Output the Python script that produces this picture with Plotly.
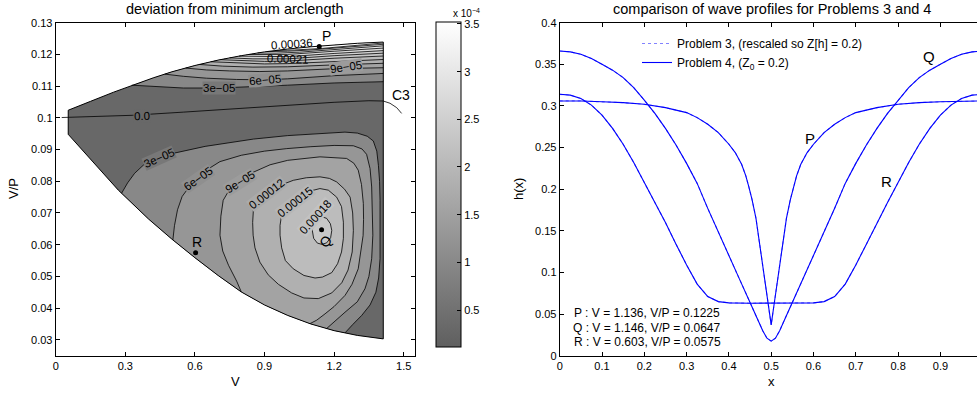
import numpy as np
import plotly.graph_objects as go

W, H = 977, 395
FONT = "Liberation Sans, Arial, Helvetica, sans-serif"

# ---------------- left panel: domain boundary (V, V/P) ----------------
UB_V = [0.054, 0.15, 0.25, 0.328, 0.42, 0.5, 0.6, 0.7, 0.8, 0.9, 1.0, 1.1, 1.2, 1.3, 1.412]
UB_Y = [0.1024, 0.1052, 0.1081, 0.1103, 0.1126, 0.1145, 0.1165, 0.1182, 0.1196, 0.1208,
        0.1217, 0.1224, 0.1230, 0.1235, 0.1239]
LB_V = [0.054, 0.27, 0.4, 0.5, 0.6, 0.7, 0.8, 0.9, 1.0, 1.1, 1.2, 1.3, 1.412]
LB_Y = [0.0948, 0.0772, 0.0681, 0.0618, 0.0559, 0.0503, 0.0451, 0.0410, 0.0377, 0.0350,
        0.0329, 0.0314, 0.0303]

# contour levels of the deviation field
LEVELS = [0.0, 3e-5, 6e-5, 9e-5, 1.2e-4, 1.5e-4, 1.8e-4, 2.1e-4, 2.4e-4, 2.7e-4, 3.0e-4, 3.3e-4, 3.6e-4]
# grey level of each band (band k lies between LEVELS[k] and LEVELS[k+1])
BAND_GRAY = [104, 136, 150, 163, 176, 188, 200, 211, 222, 232, 241, 249, 255]

# upper contours (levels 1..12): start V on the upper boundary, then points to the right edge
UPPER_START_V = [0.328, 0.47, 0.56, 0.62, 0.67, 0.71, 0.75, 0.79, 0.83, 0.87, 0.91, 0.95]
UPPER_PTS = [
    [(0.43, 0.1098), (0.55, 0.1094), (0.70, 0.1094), (0.85, 0.1098), (1.0, 0.1103), (1.2, 0.1110), (1.412, 0.1114)],
    [(0.55, 0.1131), (0.65, 0.1125), (0.78, 0.1121), (0.9, 0.1120), (1.0, 0.1123), (1.2, 0.1133), (1.412, 0.1140)],
    [(0.65, 0.1151), (0.75, 0.1148), (0.88, 0.1146), (1.0, 0.1148), (1.2, 0.1155), (1.412, 0.1158)],
    [(0.72, 0.1163), (0.85, 0.1160), (1.0, 0.1161), (1.2, 0.1167), (1.412, 0.1172)],
    [(0.77, 0.1173), (0.9, 0.1170), (1.0, 0.1171), (1.2, 0.1178), (1.412, 0.1184)],
    [(0.8, 0.1180), (0.9, 0.1178), (1.0, 0.1179), (1.2, 0.1188), (1.412, 0.1195)],
    [(0.85, 0.1186), (1.0, 0.1186), (1.2, 0.1196), (1.412, 0.1204)],
    [(0.88, 0.1193), (1.0, 0.1193), (1.2, 0.1203), (1.412, 0.1212)],
    [(0.92, 0.1199), (1.0, 0.1200), (1.2, 0.1210), (1.412, 0.1220)],
    [(0.95, 0.1204), (1.05, 0.1207), (1.2, 0.1216), (1.412, 0.1227)],
    [(1.0, 0.1210), (1.1, 0.1214), (1.25, 0.1222), (1.412, 0.1232)],
    [(1.03, 0.1214), (1.15, 0.1219), (1.3, 0.1228), (1.412, 0.1236)],
]

# lower open contours (levels 1..3): end points on the lower boundary and interior points
LOWER_ENDS_V = [(0.284, 1.247), (0.505, 1.168), (0.80, 1.096)]
LOWER_PTS = [
    [(0.31, 0.0795), (0.34, 0.0825), (0.378, 0.0851), (0.44, 0.0872), (0.5, 0.0887), (0.644, 0.0910),
     (0.773, 0.0925), (0.852, 0.0933), (1.0, 0.0944), (1.15, 0.0952), (1.247, 0.0955), (1.30, 0.0952),
     (1.343, 0.0942), (1.369, 0.0927), (1.384, 0.0895), (1.391, 0.0850), (1.396, 0.0800), (1.398, 0.0740),
     (1.399, 0.0660), (1.398, 0.0556), (1.392, 0.0495), (1.380, 0.0450), (1.355, 0.0410), (1.319, 0.0377),
     (1.28, 0.0348)],
    [(0.512, 0.0660), (0.525, 0.0710), (0.545, 0.0752), (0.58, 0.0787), (0.614, 0.0810), (0.66, 0.0840),
     (0.708, 0.0862), (0.8, 0.0882), (0.9, 0.0895), (0.996, 0.0903), (1.1, 0.0909), (1.2, 0.0913),
     (1.283, 0.0912), (1.32, 0.0902), (1.34, 0.0885), (1.355, 0.0840), (1.362, 0.0782), (1.366, 0.0700),
     (1.367, 0.0630), (1.362, 0.0556), (1.350, 0.0500), (1.333, 0.0461), (1.30, 0.0420), (1.247, 0.0387),
     (1.20, 0.0358)],
    [(0.78, 0.0485), (0.745, 0.0535), (0.72, 0.0580), (0.708, 0.0630), (0.712, 0.0690), (0.722, 0.0740),
     (0.75, 0.0775), (0.794, 0.0800), (0.85, 0.0828), (0.924, 0.0852), (1.0, 0.0866), (1.139, 0.0877),
     (1.254, 0.0872), (1.285, 0.0857), (1.304, 0.0835), (1.318, 0.0790), (1.326, 0.0730), (1.327, 0.0680),
     (1.325, 0.0629), (1.304, 0.0524), (1.277, 0.0475), (1.247, 0.0440), (1.2, 0.0405), (1.161, 0.0382),
     (1.125, 0.0362)],
]

# closed loops around Q (levels 4..6)
LOOPS = [
    [(0.852, 0.0708), (0.87, 0.0740), (0.909, 0.0762), (0.96, 0.0785), (1.024, 0.0803), (1.08, 0.0811),
     (1.139, 0.0814), (1.18, 0.0809), (1.211, 0.0798), (1.245, 0.0775), (1.269, 0.0750), (1.280, 0.0700),
     (1.283, 0.0645), (1.278, 0.0577), (1.26, 0.0520), (1.233, 0.0480), (1.19, 0.0448), (1.132, 0.0430),
     (1.07, 0.0432), (1.017, 0.0448), (0.96, 0.0475), (0.916, 0.0505), (0.88, 0.0545), (0.859, 0.0590),
     (0.851, 0.0630), (0.849, 0.0670), (0.852, 0.0708)],
    [(0.967, 0.0661), (0.975, 0.0700), (0.99, 0.0722), (1.03, 0.0745), (1.08, 0.0766), (1.139, 0.0777),
     (1.175, 0.0772), (1.211, 0.0750), (1.232, 0.0720), (1.24, 0.0671), (1.24, 0.0620), (1.232, 0.0577),
     (1.215, 0.0540), (1.19, 0.0512), (1.15, 0.0498), (1.118, 0.0495), (1.07, 0.0503), (1.024, 0.0524),
     (0.99, 0.0550), (0.974, 0.0590), (0.967, 0.0630), (0.967, 0.0661)],
    [(1.106, 0.0645), (1.112, 0.0668), (1.128, 0.0683), (1.148, 0.0688), (1.168, 0.0683), (1.184, 0.0666),
     (1.19, 0.0645), (1.185, 0.0622), (1.168, 0.0606), (1.148, 0.0601), (1.128, 0.0605), (1.112, 0.0620),
     (1.106, 0.0645)],
]

# zero contour / curve C3
C3_V = [0.026, 0.15, 0.33, 0.55, 0.77, 1.0, 1.2, 1.35, 1.412, 1.441, 1.47, 1.491]
C3_Y = [0.1001, 0.1003, 0.1008, 0.1018, 0.1029, 0.1040, 0.1049, 0.1054, 0.1053, 0.1046, 0.1032, 0.1014]

# contour labels: text, V, V/P, angle
CLABELS = [
    ("0.00036", 1.02, 0.1233, -4), ("0.00021", 1.0, 0.1186, 2), ("9e\u221205", 1.25, 0.1160, -8),
    ("6e\u221205", 0.90, 0.1119, -5), ("3e\u221205", 0.705, 0.1093, 0), ("0.0", 0.37, 0.1007, -2),
    ("3e\u221205", 0.446, 0.0874, -24), ("6e\u221205", 0.612, 0.0808, -35), ("9e\u221205", 0.794, 0.0798, -32),
    ("0.00012", 0.909, 0.0760, -38), ("0.00015", 1.031, 0.0736, -38), ("0.00018", 1.120, 0.0686, -48),
]
# the two bands each label's line separates
CLABEL_BANDS = [(11, 12), (6, 7), (2, 3), (1, 2), (0, 1), (0, 0), (0, 1), (1, 2), (2, 3), (3, 4), (4, 5), (5, 6)]

# marked points P, Q, R
PT_NAMES = ["P", "Q", "R"]
PT_V = [1.136, 1.146, 0.603]
PT_VP = [0.1225, 0.0647, 0.0575]
PT_LABEL_V = [1.169, 1.165, 0.608]
PT_LABEL_VP = [0.1258, 0.0612, 0.0607]
PT_LABEL_ANGLE = [0, -45, 0]

CB_MIN, CB_MAX = 0.115e-4, 3.524e-4
CB_TICKS = [0.5e-4, 1e-4, 1.5e-4, 2e-4, 2.5e-4, 3e-4, 3.5e-4]
CB_TICKTEXT = ["0.5", "1", "1.5", "2", "2.5", "3", "3.5"]

# ---------------- right panel: wave profiles ----------------
XR = [0, .025, .05, .075, .1, .125, .15, .175, .2, .225, .25, .275, .3, .325, .35, .375, .4, .45, .5,
      .55, .6, .625, .65, .675, .7, .725, .75, .775, .8, .825, .85, .875, .9, .925, .95, .975, 1.0]
HR = [0.314, 0.313, 0.309, 0.301, 0.289, 0.273, 0.254, 0.232, 0.208, 0.184, 0.160, 0.134, 0.109, 0.086,
      0.071, 0.065, 0.0635, 0.063, 0.063,
      0.063, 0.0635, 0.065, 0.071, 0.086, 0.109, 0.134, 0.160, 0.184, 0.208, 0.232, 0.254, 0.273, 0.289,
      0.301, 0.309, 0.313, 0.314]
XQ = [0, .025, .05, .075, .1, .125, .15, .175, .2, .225, .25, .275, .3, .325, .35, .375, .4, .425, .45,
      .465, .48, .49, .5, .51, .52, .535, .55, .575, .6, .625, .65, .675, .7, .725, .75, .775, .8, .825,
      .85, .875, .9, .925, .95, .975, 1.0]
HQ = [0.366, 0.365, 0.362, 0.357, 0.350, 0.343, 0.334, 0.322, 0.307, 0.291, 0.273, 0.253, 0.231, 0.207,
      0.177, 0.148, 0.120, 0.092, 0.064, 0.047, 0.030, 0.021, 0.0175, 0.021, 0.030, 0.047, 0.064, 0.092,
      0.120, 0.148, 0.177, 0.207, 0.231, 0.253, 0.273, 0.291, 0.307, 0.322, 0.334, 0.343, 0.350, 0.357,
      0.362, 0.365, 0.366]
XP = [0, .05, .1, .15, .2, .25, .3, .325, .35, .375, .4, .415, .43, .44, .447, .455, .464, .472, .48,
      .486, .492, .497, .5, .503, .508, .514, .52, .528, .536, .545, .553, .56, .57, .585, .6, .625, .65,
      .675, .7, .75, .8, .85, .9, .95, 1.0]
HP = [0.306, 0.306, 0.305, 0.304, 0.302, 0.298, 0.292, 0.286, 0.278, 0.268, 0.254, 0.244, 0.230, 0.216,
      0.203, 0.187, 0.165, 0.137, 0.105, 0.085, 0.065, 0.048, 0.037, 0.048, 0.065, 0.085, 0.105, 0.137,
      0.165, 0.187, 0.203, 0.216, 0.230, 0.244, 0.254, 0.268, 0.278, 0.286, 0.292, 0.298, 0.302, 0.304,
      0.305, 0.306, 0.306]
PROFILE_NAMES = ["P", "Q", "R"]
PROF_LABEL_X = [0.592, 0.873, 0.773]
PROF_LABEL_H = [0.261, 0.360, 0.209]
INFO_LINES = ["P : V = 1.136, V/P = 0.1225", "Q : V = 1.146, V/P = 0.0647", "R : V = 0.603, V/P = 0.0575"]

# ---------------- helpers ----------------
def gray(g):
    g = int(round(g))
    return "rgb(%d,%d,%d)" % (g, g, g)

def band_color(k):
    return gray(BAND_GRAY[k])

def ub(v):
    return float(np.interp(v, UB_V, UB_Y))

def lb(v):
    return float(np.interp(v, LB_V, LB_Y))

fig = go.Figure()

def add_fill(vs, ys, color):
    fig.add_trace(go.Scatter(x=vs, y=ys, mode="lines", fill="toself", fillcolor=color,
                             line=dict(width=0, color=color), hoverinfo="skip", showlegend=False,
                             xaxis="x", yaxis="y"))

def add_line(vs, ys, width=0.8):
    fig.add_trace(go.Scatter(x=vs, y=ys, mode="lines", line=dict(color="black", width=width),
                             hoverinfo="skip", showlegend=False, xaxis="x", yaxis="y"))

# domain (band 0)
dom_v = list(LB_V) + list(UB_V[::-1])
dom_y = list(LB_Y) + list(UB_Y[::-1])
add_fill(dom_v, dom_y, band_color(0))

lines = []
# upper superlevel regions
for k, (vs0, pts) in enumerate(zip(UPPER_START_V, UPPER_PTS), start=1):
    lv = [vs0] + [p[0] for p in pts]
    ly = [ub(vs0)] + [p[1] for p in pts]
    bv = [v for v in UB_V if v > vs0][::-1]
    by = [UB_Y[UB_V.index(v)] for v in bv]
    add_fill(lv + bv, ly + by, band_color(k))
    lines.append((lv, ly))

# lower open regions
for k, ((vl, vr), pts) in enumerate(zip(LOWER_ENDS_V, LOWER_PTS), start=1):
    lv = [vl] + [p[0] for p in pts] + [vr]
    ly = [lb(vl)] + [p[1] for p in pts] + [lb(vr)]
    bv = [v for v in LB_V if vl < v < vr][::-1]
    by = [LB_Y[LB_V.index(v)] for v in bv]
    add_fill(lv + bv, ly + by, band_color(k))
    lines.append((lv, ly))

# closed loops
for k, loop in enumerate(LOOPS, start=4):
    lv = [p[0] for p in loop]
    ly = [p[1] for p in loop]
    add_fill(lv, ly, band_color(k))
    lines.append((lv, ly))

for lv, ly in lines:
    add_line(lv, ly)
add_line(C3_V, C3_Y)
# domain outline
add_line(dom_v + [dom_v[0]], dom_y + [dom_y[0]], width=1)

# points
fig.add_trace(go.Scatter(x=PT_V, y=PT_VP, mode="markers", marker=dict(color="black", size=5),
                         hoverinfo="skip", showlegend=False, xaxis="x", yaxis="y"))

# colorbar carrier (point placed below the visible range)
cbar = dict(x=436 / W, xanchor="left", y=1 - 21.7 / H, yanchor="top",
            len=325, lenmode="pixels", thickness=25, thicknessmode="pixels", outlinewidth=1,
            outlinecolor="black", ticks="inside", ticklen=4, tickcolor="black", tickvals=CB_TICKS,
            ticktext=CB_TICKTEXT, xpad=0, ypad=0,
            tickfont=dict(size=11, color="black", family=FONT))
fig.add_trace(go.Scatter(x=[0.0], y=[0.0], mode="markers", hoverinfo="skip", showlegend=False,
                         xaxis="x", yaxis="y",
                         marker=dict(size=1, color=[CB_MIN], cmin=CB_MIN, cmax=CB_MAX,
                                     colorscale=[[0, "rgb(95,95,95)"], [1, "rgb(255,255,255)"]],
                                     showscale=True, colorbar=cbar)))

# ---------------- right panel traces ----------------
profiles = [(XP, HP), (XQ, HQ), (XR, HR)]
for i, (xs, hs) in enumerate(profiles):
    fig.add_trace(go.Scatter(x=xs, y=hs, mode="lines", name="Problem 3, (rescaled so Z[h] = 0.2)",
                             line=dict(color="rgb(130,130,255)", width=1.2, dash="dot"),
                             showlegend=(i == 0), legendrank=1, xaxis="x2", yaxis="y2", hoverinfo="skip"))
for i, (xs, hs) in enumerate(profiles):
    fig.add_trace(go.Scatter(x=xs, y=hs, mode="lines", name="Problem 4, (Z<sub>0</sub> = 0.2)",
                             line=dict(color="rgb(0,0,255)", width=1.1),
                             showlegend=(i == 0), legendrank=2, xaxis="x2", yaxis="y2", hoverinfo="skip"))

# ---------------- annotations ----------------
C = dict(showarrow=False, xanchor="center", yanchor="middle")
ann = []
for (txt, v, y, ang), (b1, b2) in zip(CLABELS, CLABEL_BANDS):
    if txt in ("0.00036", "0.00021"):
        bg = "rgba(0,0,0,0)"
    else:
        bg = gray((BAND_GRAY[b1] + BAND_GRAY[b2]) / 2)
    ann.append(dict(text=txt, x=v, y=y, xref="x", yref="y", textangle=ang,
                    font=dict(size=11.5, color="black", family=FONT), bgcolor=bg, borderpad=0, **C))
for n, v, y, ang in zip(PT_NAMES, PT_LABEL_V, PT_LABEL_VP, PT_LABEL_ANGLE):
    ann.append(dict(text=n, x=v, y=y, xref="x", yref="y", textangle=ang,
                    font=dict(size=14, color="black", family=FONT), **C))
ann.append(dict(text="C3", x=1.49, y=0.1072, xref="x", yref="y",
                font=dict(size=14, color="black", family=FONT), **C))
for n, x, h in zip(PROFILE_NAMES, PROF_LABEL_X, PROF_LABEL_H):
    ann.append(dict(text=n, x=x, y=h, xref="x2", yref="y2",
                    font=dict(size=15, color="black", family=FONT), **C))
for i, line in enumerate(INFO_LINES):
    ann.append(dict(text=line, x=647 / W, y=1 - (313.3 + 14.5 * i) / H, xref="paper", yref="paper",
                    font=dict(size=12, color="black", family=FONT), **C))
# titles and axis labels
ann += [
    dict(text="deviation from minimum arclength", x=235.3 / W, y=1 - 8.5 / H, xref="paper", yref="paper",
         font=dict(size=14.5, color="black", family=FONT), **C),
    dict(text="comparison of wave profiles for Problems 3 and 4", x=771.5 / W, y=1 - 8.5 / H,
         xref="paper", yref="paper", font=dict(size=14.5, color="black", family=FONT), **C),
    dict(text="V", x=235.3 / W, y=1 - 381.5 / H, xref="paper", yref="paper",
         font=dict(size=13, color="black", family=FONT), **C),
    dict(text="V/P", x=13 / W, y=1 - 189 / H, xref="paper", yref="paper", textangle=-90,
         font=dict(size=13, color="black", family=FONT), **C),
    dict(text="x", x=771 / W, y=1 - 381.5 / H, xref="paper", yref="paper",
         font=dict(size=13, color="black", family=FONT), **C),
    dict(text="h(x)", x=518 / W, y=1 - 189 / H, xref="paper", yref="paper", textangle=-90,
         font=dict(size=13, color="black", family=FONT), **C),
    dict(text="x 10<sup>\u22124</sup>", x=466 / W, y=1 - 13 / H, xref="paper", yref="paper",
         font=dict(size=10, color="black", family=FONT), **C),
]

ydom = [1 - 355.7 / H, 1 - 22.7 / H]
axis_common = dict(showline=True, linecolor="black", linewidth=1, ticks="inside", ticklen=4,
                   tickcolor="black", showgrid=False, zeroline=False,
                   tickfont=dict(size=11, color="black", family=FONT))

fig.update_layout(
    width=W, height=H, margin=dict(l=0, r=0, t=0, b=0, pad=0, autoexpand=False),
    paper_bgcolor="white", plot_bgcolor="white",
    font=dict(family=FONT, color="black"),
    xaxis=dict(domain=[55.7 / W, 415.3 / W], range=[0, 1.55], tickvals=[0, 0.3, 0.6, 0.9, 1.2, 1.5],
               mirror="ticks", **axis_common),
    yaxis=dict(domain=ydom, range=[0.025, 0.13], tickvals=[0.03, 0.04, 0.05, 0.06, 0.07, 0.08, 0.09, 0.1,
                                                           0.11, 0.12, 0.13],
               mirror="ticks", **axis_common),
    xaxis2=dict(domain=[559.7 / W, 1.0], range=[0, (W - 559.7) / 423.0], anchor="y2",
                tickvals=[0, 0.1, 0.2, 0.3, 0.4, 0.5, 0.6, 0.7, 0.8, 0.9], mirror="ticks", **axis_common),
    yaxis2=dict(domain=ydom, range=[0, 0.4], anchor="x2",
                tickvals=[0, 0.05, 0.1, 0.15, 0.2, 0.25, 0.3, 0.35, 0.4], **axis_common),
    legend=dict(x=637 / W, y=1 - 29 / H, xanchor="left", yanchor="top", bgcolor="rgba(0,0,0,0)",
                borderwidth=0, font=dict(size=12, color="black", family=FONT), tracegroupgap=0),
    annotations=ann,
    showlegend=True,
)

fig.write_html("out.html")
